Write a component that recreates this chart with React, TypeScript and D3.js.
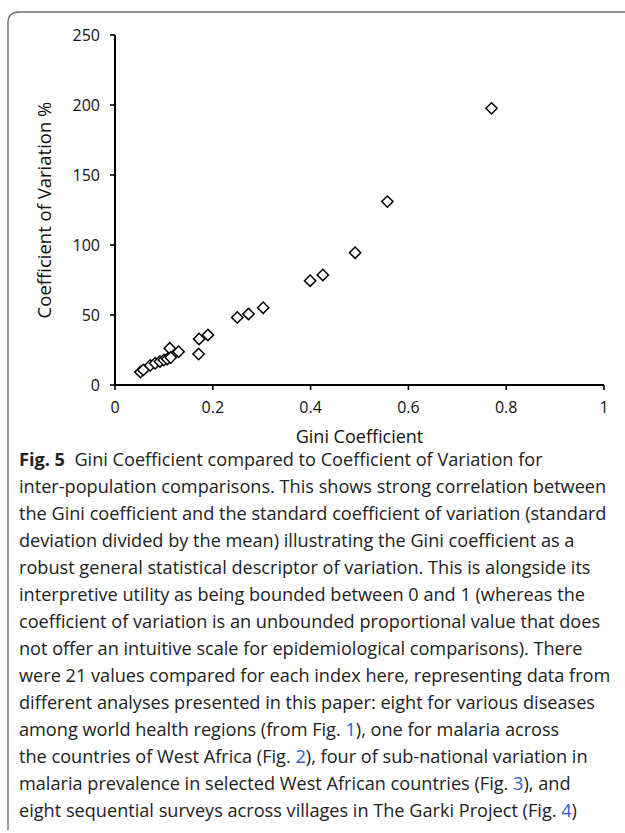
import React, { useLayoutEffect, useRef, useState } from "react";
import * as d3 from "d3";

const giniValues = [
  0.770, 0.557, 0.491, 0.425, 0.399, 0.303, 0.273, 0.250,
  0.190, 0.172, 0.171, 0.130, 0.112,
  0.052, 0.058, 0.072, 0.082, 0.092, 0.100, 0.107, 0.114,
];
const cvValues = [
  197.6, 131.0, 94.5, 78.6, 74.5, 55.2, 50.7, 48.3,
  35.7, 32.9, 22.1, 23.8, 26.2,
  9.3, 10.8, 14.0, 15.5, 16.8, 17.8, 18.6, 19.6,
];
const xTicks = [0, 0.2, 0.4, 0.6, 0.8, 1];
const yTicks = [0, 50, 100, 150, 200, 250];
const xTickLabels = ["0", "0.2", "0.4", "0.6", "0.8", "1"];
const yTickLabels = ["0", "50", "100", "150", "200", "250"];
const xTitle = "Gini Coefficient";
const yTitle = "Coefficient of Variation %";

type Seg = { t: string; bold?: boolean; link?: boolean };
const captionLines: Seg[][] = [
  [{ t: "Fig. 5", bold: true }, { t: "  Gini Coefficient compared to Coefficient of Variation for" }],
  [{ t: "inter-population comparisons. This shows strong correlation between" }],
  [{ t: "the Gini coefficient and the standard coefficient of variation (standard" }],
  [{ t: "deviation divided by the mean) illustrating the Gini coefficient as a" }],
  [{ t: "robust general statistical descriptor of variation. This is alongside its" }],
  [{ t: "interpretive utility as being bounded between 0 and 1 (whereas the" }],
  [{ t: "coefficient of variation is an unbounded proportional value that does" }],
  [{ t: "not offer an intuitive scale for epidemiological comparisons). There" }],
  [{ t: "were 21 values compared for each index here, representing data from" }],
  [{ t: "different analyses presented in this paper: eight for various diseases" }],
  [{ t: "among world health regions (from Fig. " }, { t: "1", link: true }, { t: "), one for malaria across" }],
  [{ t: "the countries of West Africa (Fig. " }, { t: "2", link: true }, { t: "), four of sub-national variation in" }],
  [{ t: "malaria prevalence in selected West African countries (Fig. " }, { t: "3", link: true }, { t: "), and" }],
  [{ t: "eight sequential surveys across villages in The Garki Project (Fig. " }, { t: "4", link: true }, { t: ")" }],
];
// reference right edges of the widest lines, used to calibrate one common horizontal scale
const calibLine = 2;
const calibRight = 607;

export default function App() {
  const W = 625, H = 833;
  const x = d3.scaleLinear().domain([0, 1]).range([115, 604]);
  const y = d3.scaleLinear().domain([0, 250]).range([385, 35]);
  const diamond = d3.symbol().type(d3.symbolSquare).size(64)();
  const font = "'Open Sans', 'Noto Sans', sans-serif";
  const capLeft = 19;
  const capTop = 466;
  const capStep = 27;

  const refs = useRef<(SVGTextElement | null)[]>([]);
  const [scale, setScale] = useState<number>(1);

  useLayoutEffect(() => {
    const el = refs.current[calibLine];
    if (el) {
      const w = el.getBBox().width;
      if (w > 0) setScale((calibRight - capLeft) / w);
    }
  }, []);

  return (
    <svg width={W} height={H} style={{ position: "absolute", left: 0, top: 0, background: "#fff" }}
      fontFamily={font}>
      <rect x={0} y={0} width={W} height={H} fill="#fff" />
      {/* card border */}
      <path d={`M8,830 L8,23 Q8,12 19,12 L625,12`} fill="none" stroke="#6f6f6f" strokeWidth={1.4} />

      {/* axes */}
      <line x1={x(0)} x2={x(1)} y1={y(0)} y2={y(0)} stroke="#000" strokeWidth={2} />
      <line x1={x(0)} x2={x(0)} y1={y(0)} y2={y(250)} stroke="#000" strokeWidth={2} />
      {xTicks.map((t, i) => (
        <g key={"xt" + i}>
          <line x1={x(t)} x2={x(t)} y1={y(0)} y2={y(0) + 5} stroke="#000" strokeWidth={1.6} />
          <text x={x(t)} y={413} textAnchor="middle" fontSize={16} fill="#111">{xTickLabels[i]}</text>
        </g>
      ))}
      {yTicks.map((t, i) => (
        <g key={"yt" + i}>
          <line x1={x(0) - 5} x2={x(0)} y1={y(t)} y2={y(t)} stroke="#000" strokeWidth={1.6} />
          <text x={100} y={y(t) + 5.5} textAnchor="end" fontSize={16} fill="#111">{yTickLabels[i]}</text>
        </g>
      ))}
      <text x={(x(0) + x(1)) / 2} y={443} textAnchor="middle" fontSize={18} fill="#111">{xTitle}</text>
      <text transform={`translate(51,${(y(0) + y(250)) / 2}) rotate(-90)`} textAnchor="middle" fontSize={18.5} fill="#111">{yTitle}</text>

      {/* points */}
      {giniValues.map((g, i) => (
        <path key={"p" + i} d={diamond as string}
          transform={`translate(${x(g)},${y(cvValues[i])}) rotate(45)`}
          fill="#fff" stroke="#000" strokeWidth={1.5} />
      ))}

      {/* caption */}
      {captionLines.map((segs, i) => (
        <text key={"c" + i} ref={(el) => { refs.current[i] = el; }}
          transform={`translate(${capLeft},${capTop + i * capStep}) scale(${scale},1)`}
          fontSize={17.5} fill="#222" style={{ whiteSpace: "pre" }}>
          {segs.map((s, j) => (
            <tspan key={j} fontWeight={s.bold ? 700 : 400} fill={s.link ? "#2f5fcf" : undefined}>{s.t}</tspan>
          ))}
        </text>
      ))}
    </svg>
  );
}
